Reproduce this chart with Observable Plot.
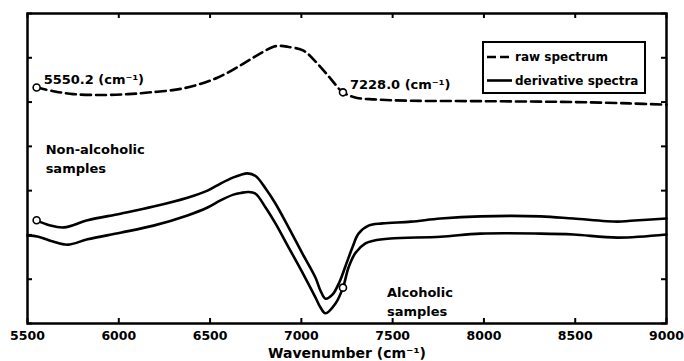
<!DOCTYPE html>
<html><head><meta charset="utf-8">
<script src="https://cdn.jsdelivr.net/npm/d3@7"></script>
<script src="https://cdn.jsdelivr.net/npm/@observablehq/plot@0.6"></script>
<style>body{margin:0;background:#fff} #chart svg{display:block}</style>
</head><body><div id="chart"></div>
<script>
// ---- data ----
const xTicks = [5500, 6000, 6500, 7000, 7500, 8000, 8500, 9000];
const yTicks = [0, 1, 2, 3, 4, 5, 6, 7];

const rawX = [5550,5650,5750,5900,6050,6174,6354,6540,6683,6776,6847,6886,6924,7012,7088,7160,7228,7300,7400,7600,8000,8500,8800,9000];
const rawY = [5.33,5.24,5.18,5.16,5.18,5.22,5.31,5.55,5.87,6.10,6.25,6.27,6.25,6.16,5.87,5.53,5.22,5.10,5.06,5.03,5.02,5.00,4.97,4.94];

const upperX = [5550,5620,5700,5829,6009,6190,6376,6486,6557,6628,6670,6705,6749,6804,6858,6930,7006,7077,7105,7132,7170,7210,7242,7280,7313,7368,7444,7600,7762,7981,8310,8490,8731,8803,9000];
const upperY = [2.33,2.22,2.17,2.33,2.48,2.64,2.84,3.00,3.16,3.30,3.36,3.39,3.33,3.05,2.71,2.17,1.58,1.04,0.74,0.56,0.65,0.95,1.30,1.72,2.03,2.21,2.26,2.30,2.37,2.42,2.42,2.37,2.30,2.32,2.37];

const lowerX = [5500,5560,5640,5720,5829,6009,6190,6376,6486,6557,6628,6670,6710,6749,6804,6858,6930,7006,7077,7105,7132,7187,7228,7258,7297,7351,7395,7488,7762,7981,8310,8490,8731,9000];
const lowerY = [1.99,1.96,1.85,1.78,1.90,2.05,2.21,2.44,2.62,2.78,2.91,2.95,2.97,2.93,2.62,2.26,1.72,1.15,0.59,0.36,0.23,0.45,0.81,1.26,1.60,1.81,1.87,1.92,1.96,2.03,2.03,2.01,1.94,2.01];

const markers = [5550, 7228];
const markerLabels = ["5550.2 (cm\u207B\u00B9)", "7228.0 (cm\u207B\u00B9)"];
const groupLabels = ["Non-alcoholic\nsamples", "Alcoholic\nsamples"];
const xTitle = "Wavenumber (cm\u207B\u00B9)";
const legendItems = [
  {label: "raw spectrum", dash: "9,4"},
  {label: "derivative spectra", dash: null}
];

// ---- build ----
const raw = rawX.map((x, i) => ({x, y: rawY[i]}));
const upper = upperX.map((x, i) => ({x, y: upperY[i]}));
const lower = lowerX.map((x, i) => ({x, y: lowerY[i]}));

const W = 684, H = 361, mL = 27, mR = 18, mT = 13, mB = 38;
const plotW = W - mL - mR, plotH = H - mT - mB;
const font = "DejaVu Sans, sans-serif";
const tk = 5;
const curve = "catmull-rom";

const rawMarks = raw.filter(d => markers.includes(d.x));
const upMark = upper.filter(d => d.x === markers[0]);
const lowMark = lower.filter(d => d.x === markers[1]);

const chart = Plot.plot({
  width: W, height: H,
  marginLeft: mL, marginRight: mR, marginTop: mT, marginBottom: mB,
  style: {fontFamily: font, background: "white", color: "black", overflow: "visible"},
  x: {domain: [5500, 9000]},
  y: {domain: [0, 7], axis: null},
  marks: [
    Plot.line(lower, {x: "x", y: "y", curve, stroke: "black", strokeWidth: 2.6}),
    Plot.line(upper, {x: "x", y: "y", curve, stroke: "black", strokeWidth: 2.6}),
    Plot.line(raw, {x: "x", y: "y", curve, stroke: "black", strokeWidth: 2.6, strokeDasharray: "10,5"}),
    Plot.dot(rawMarks, {x: "x", y: "y", r: 3.5, fill: "white", stroke: "black", strokeWidth: 1.6}),
    Plot.dot(upMark, {x: "x", y: "y", r: 3.5, fill: "white", stroke: "black", strokeWidth: 1.6}),
    Plot.dot(lowMark, {x: "x", y: "y", r: 3.5, fill: "white", stroke: "black", strokeWidth: 1.6}),
    Plot.text(rawMarks, {x: "x", y: "y", text: (d, i) => markerLabels[i], textAnchor: "start", lineAnchor: "bottom",
      dx: 7, dy: -3, fontSize: 13, fontWeight: "bold"}),
    Plot.text(upMark, {x: "x", y: "y", text: () => groupLabels[0], textAnchor: "start", lineAnchor: "top",
      dx: 9, dy: -80, fontSize: 13, fontWeight: "bold", lineHeight: 1.45}),
    Plot.text(lowMark, {x: "x", y: "y", text: () => groupLabels[1], textAnchor: "start", lineAnchor: "top",
      dx: 44, dy: -4, fontSize: 13, fontWeight: "bold", lineHeight: 1.45}),
    Plot.tickX(xTicks, {x: d => d, insetTop: plotH - tk, stroke: "black", strokeWidth: 2}),
    Plot.tickX(xTicks, {x: d => d, insetBottom: plotH - tk, stroke: "black", strokeWidth: 2}),
    Plot.tickY(yTicks, {y: d => d, insetRight: plotW - tk, stroke: "black", strokeWidth: 2}),
    Plot.tickY(yTicks, {y: d => d, insetLeft: plotW - tk, stroke: "black", strokeWidth: 2}),
    Plot.axisX(xTicks, {tickSize: 0, tickPadding: 8, tickFormat: d => String(d), fontSize: 12.5, fontWeight: "bold", label: null}),
    Plot.text([xTitle], {frameAnchor: "bottom", dy: 34, lineAnchor: "bottom", fontSize: 14, fontWeight: "bold"}),
    Plot.frame({stroke: "black", strokeWidth: 2.5})
  ]
});

// legend box (top right, inside frame)
const svg = d3.select(chart);
const lg = svg.append("g").attr("font-family", font).attr("font-weight", "bold").attr("font-size", 12);
lg.append("rect").attr("x", 483).attr("y", 42).attr("width", 162).attr("height", 51)
  .attr("fill", "white").attr("stroke", "black").attr("stroke-width", 2);
legendItems.forEach((it, i) => {
  const y = 57 + i * 23.5;
  lg.append("line").attr("x1", 487).attr("x2", 512).attr("y1", y).attr("y2", y)
    .attr("stroke", "black").attr("stroke-width", 2.6).attr("stroke-dasharray", it.dash);
  lg.append("text").attr("x", 515).attr("y", y + 4.3).attr("text-anchor", "start").text(it.label);
});

document.getElementById("chart").appendChild(chart);
</script>
</body></html>
